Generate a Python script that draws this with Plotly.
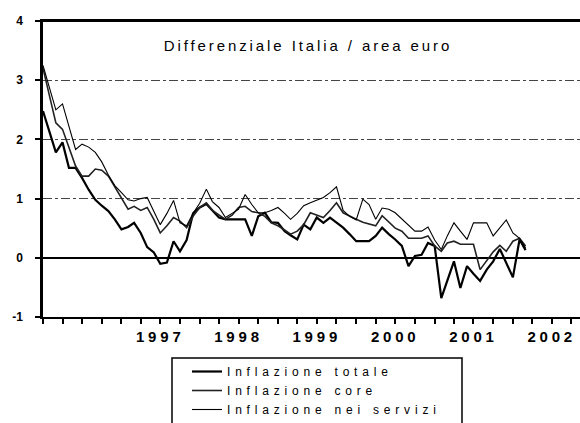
import pandas as pd
import plotly.graph_objects as go

# monthly observations, Jan 1996 - Mar 2002
months = pd.date_range("1996-01-01", periods=75, freq="MS").strftime("%Y-%m-%d").tolist()

totale = [
    2.48, 2.10, 1.78, 1.95, 1.52, 1.52, 1.35, 1.15, 0.98, 0.88, 0.79, 0.65,
    0.48, 0.52, 0.59, 0.42, 0.18, 0.09, -0.10, -0.08, 0.28, 0.11, 0.30, 0.75,
    0.85, 0.91, 0.80, 0.68, 0.65, 0.65, 0.65, 0.65, 0.37, 0.70, 0.76, 0.60,
    0.59, 0.45, 0.38, 0.31, 0.56, 0.48, 0.68, 0.59, 0.68, 0.60, 0.51, 0.40,
    0.28, 0.28, 0.28, 0.37, 0.51, 0.40, 0.31, 0.20, -0.14, 0.03, 0.05, 0.25,
    0.20, -0.68, -0.37, -0.06, -0.51, -0.14, -0.27, -0.39, -0.20, -0.06, 0.15, -0.09,
    -0.33, 0.31, 0.13,
]
core = [
    3.20, 2.70, 2.28, 2.17, 1.86, 1.55, 1.38, 1.38, 1.50, 1.48, 1.38, 1.20,
    1.02, 0.82, 0.87, 0.80, 0.85, 0.65, 0.42, 0.54, 0.68, 0.62, 0.51, 0.70,
    0.85, 0.93, 0.80, 0.72, 0.65, 0.72, 0.85, 0.87, 0.78, 0.76, 0.70, 0.59,
    0.54, 0.47, 0.40, 0.45, 0.56, 0.76, 0.72, 0.68, 0.80, 0.93, 0.76, 0.70,
    0.65, 0.60, 0.57, 0.54, 0.71, 0.60, 0.50, 0.45, 0.33, 0.33, 0.33, 0.37,
    0.20, 0.11, 0.25, 0.28, 0.23, 0.23, 0.23, -0.20, -0.05, 0.10, 0.21, 0.11,
    0.28, 0.33, 0.20,
]
servizi = [
    3.25, 2.85, 2.50, 2.60, 2.20, 1.83, 1.92, 1.87, 1.78, 1.62, 1.40, 1.22,
    1.10, 0.98, 0.96, 1.00, 1.02, 0.80, 0.56, 0.75, 0.97, 0.59, 0.54, 0.75,
    0.92, 1.16, 0.95, 0.85, 0.68, 0.75, 0.82, 1.07, 0.90, 0.76, 0.76, 0.80,
    0.85, 0.75, 0.65, 0.75, 0.88, 0.93, 0.97, 1.02, 1.10, 1.20, 0.80, 0.70,
    0.64, 0.99, 0.90, 0.65, 0.84, 0.82, 0.76, 0.65, 0.54, 0.45, 0.45, 0.52,
    0.30, 0.14, 0.37, 0.59, 0.45, 0.31, 0.59, 0.59, 0.59, 0.37, 0.50, 0.64,
    0.42, 0.33, 0.17,
]

series_names = ["Inflazione totale", "Inflazione core", "Inflazione nei servizi"]
year_labels = ["1997", "1998", "1999", "2000", "2001", "2002"]
year_label_pos = ["1997-07-01", "1998-07-01", "1999-07-01", "2000-07-01", "2001-07-01", "2002-07-01"]
y_ticks = [-1, 0, 1, 2, 3, 4]
title_text = "Differenziale Italia / area euro"

FONT = "Arial, Liberation Sans, sans-serif"
NBSP = "\u00a0"

fig = go.Figure()
for name, vals, w, col in [
    (series_names[0], totale, 2.2, "#000000"),
    (series_names[1], core, 1.6, "#222222"),
    (series_names[2], servizi, 1.1, "#000000"),
]:
    fig.add_trace(go.Scatter(x=months, y=vals, mode="lines", name=name,
                             line=dict(color=col, width=w)))

fig.update_layout(
    width=580, height=423,
    margin=dict(l=43, r=0, t=21, b=106, autoexpand=False),
    paper_bgcolor="white", plot_bgcolor="white",
    font=dict(family=FONT, color="black"),
    title=dict(text=title_text, x=0.4935, xref="paper", xanchor="center",
               y=1 - 45.5 / 423, yref="container", yanchor="middle",
               font=dict(size=15, family=FONT, color="black")),
    showlegend=True,
    legend=dict(x=187 / 580, y=1 - 357 / 423, xref="container", yref="container",
                xanchor="left", yanchor="top",
                bgcolor="rgba(0,0,0,0)", borderwidth=0,
                font=dict(size=12, family=FONT, color="black")),
    shapes=[
        dict(type="rect", xref="paper", yref="paper",
             x0=(172 - 43) / 537, x1=(462 - 43) / 537,
             y0=(317 - 358) / 296, y1=(317 - 428) / 296,
             line=dict(color="black", width=1.5)),
        dict(type="line", xref="paper", yref="paper", x0=0, x1=1, y0=1, y1=1,
             line=dict(color="black", width=2)),
    ],
)
fig.update_xaxes(
    type="date", range=["1996-01-01", "2002-11-10"],
    tickvals=year_label_pos, ticktext=["<b>" + t + "</b>" for t in year_labels],
    ticks="outside", ticklen=5, tickwidth=1.5, tickcolor="black",
    tickfont=dict(size=15, family=FONT, color="black"),
    minor=dict(dtick="M3", tick0="1996-01-01", ticks="outside", ticklen=5,
               tickwidth=1.5, tickcolor="black", showgrid=False),
    showgrid=False, showline=True, linecolor="black", linewidth=2, mirror=True,
    zeroline=False,
)
fig.update_yaxes(
    range=[-1, 4], tickvals=y_ticks,
    ticktext=["<b>" + str(v) + "</b>" + NBSP * 3 for v in y_ticks],
    ticks="outside", ticklen=5, tickwidth=1.5, tickcolor="black",
    tickfont=dict(size=12, family=FONT, color="black"),
    showgrid=True, gridcolor="#444444", gridwidth=0.8, griddash="dashdot",
    zeroline=True, zerolinecolor="black", zerolinewidth=2,
    showline=True, linecolor="black", linewidth=2.5, mirror=False,
)

post = """
document.body.style.margin = '0';
var gd = document.getElementById('{plot_id}');
function sp(sel, v){
  gd.querySelectorAll(sel).forEach(function(e){ e.style.letterSpacing = v; });
}
sp('.legendtext', '4.8px');
sp('.gtitle', '2.9px');
sp('.xtick text', '3.8px');
gd.querySelectorAll('.legend .scrollbox').forEach(function(e){ e.removeAttribute('clip-path'); });
gd.querySelectorAll('.legend').forEach(function(e){ e.removeAttribute('clip-path'); });
"""
fig.write_html("out.html", post_script=post, config={"displayModeBar": False})
